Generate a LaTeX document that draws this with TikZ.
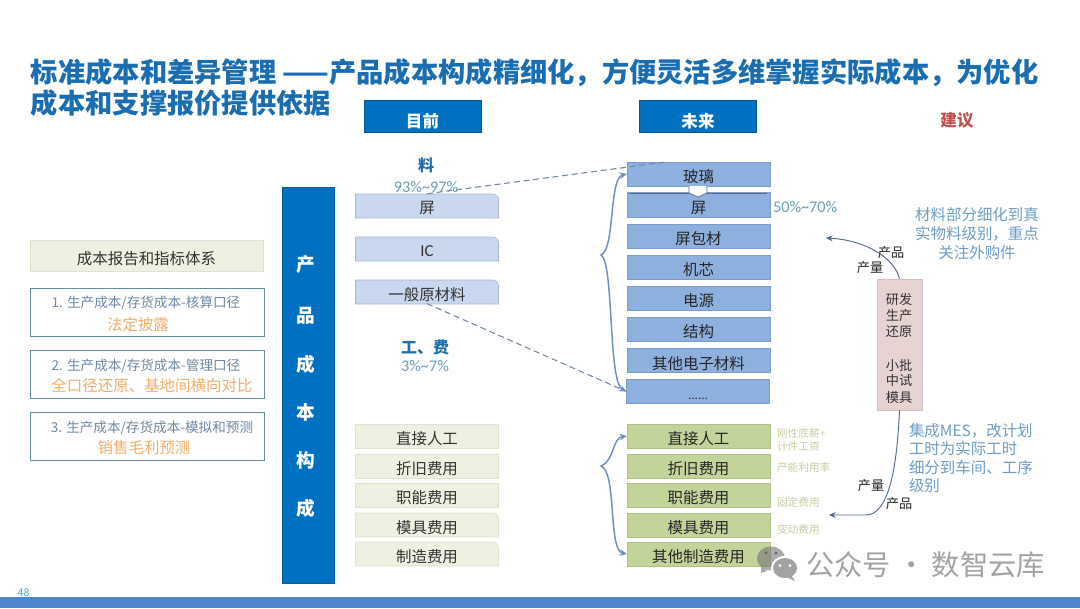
\documentclass[tikz,border=0pt]{standalone}
\usepackage{fontspec}
\setmainfont{Noto Sans CJK SC}
\newfontfamily\latf{Carlito}
\usetikzlibrary{arrows.meta}
\definecolor{titleblue}{HTML}{1A6DB0}
\definecolor{barblue}{HTML}{0070C0}
\definecolor{softblue}{HTML}{C9D8EE}
\definecolor{softblueline}{HTML}{A3B6D3}
\definecolor{softgreen}{HTML}{EEF0E1}
\definecolor{softgreenline}{HTML}{E0E3CE}
\definecolor{midblue}{HTML}{8EB0DF}
\definecolor{midblueline}{HTML}{7C9CCB}
\definecolor{midgreen}{HTML}{C3D49B}
\definecolor{midgreenline}{HTML}{B0C285}
\definecolor{accent}{HTML}{6F8FBF}
\definecolor{notetext}{HTML}{6E9CC6}
\definecolor{pct}{HTML}{6C9DB2}
\definecolor{headtext}{HTML}{1F6FA8}
\definecolor{orangetext}{HTML}{EFAE6C}
\definecolor{greytext}{HTML}{6F88A6}
\definecolor{smallgreen}{HTML}{C6CFA2}
\definecolor{pinkbox}{HTML}{E8D3D3}
\definecolor{redtext}{HTML}{C0504D}
\definecolor{frameteal}{HTML}{5F8D9A}
\definecolor{wm}{HTML}{A3A3A3}
\definecolor{band}{HTML}{4F87CF}
\definecolor{dashgrey}{HTML}{7488A6}
\definecolor{pagenumcol}{HTML}{3FA9D6}
\tikzset{
  x=0.75pt,y=-0.75pt,
  txt/.style={inner sep=0pt,outer sep=0pt,text=#1},
  txt/.default=black,
  px155/.style={font=\fontsize{11.6pt}{14pt}\selectfont},
  px13/.style={font=\fontsize{9.9pt}{12pt}\selectfont},
  px135/.style={font=\fontsize{10.2pt}{12pt}\selectfont},
  px11/.style={font=\fontsize{8pt}{10pt}\selectfont},
  lowtext/.style={text height=14.5pt,text depth=1.5pt},
  pctfont/.style={font=\fontsize{12.2pt}{14pt}\latf},
  header/.style={fill=barblue,draw=barblue!80!black,line width=.4pt,minimum width=88pt,minimum height=24pt,inner sep=0pt,text=white,font=\fontsize{12.4pt}{14pt}\selectfont\bfseries,text height=19pt,text depth=2pt},
  bluerow/.style={fill=midblue,draw=midblueline,line width=.4pt,minimum width=107pt,minimum height=18pt,inner sep=0pt,px155,text=black!85,lowtext},
  greenrow/.style={fill=midgreen,draw=midgreenline,line width=.4pt,minimum width=107pt,minimum height=18pt,inner sep=0pt,px155,text=black!85,lowtext},
  softrow/.style={fill=softgreen,draw=softgreenline,line width=.4pt,minimum width=107pt,minimum height=18pt,inner sep=0pt,px155,text=black!80,lowtext},
  frame/.style={draw=frameteal,line width=.6pt,fill=white,minimum width=175.5pt,minimum height=36.5pt,inner sep=0pt},
  dashline/.style={dash pattern=on 4.5pt off 2.8pt,line width=.8pt,draw=dashgrey},
  brace/.style={draw=accent,line width=1.1pt,{Stealth[length=5.5pt,width=5pt]}-{Stealth[length=5.5pt,width=5pt]}},
  curve/.style={draw=black!25!accent,line width=.7pt,-{Stealth[length=5pt,width=4.5pt]}},
  vchar/.style={txt=white,font=\fontsize{14pt}{16pt}\selectfont\bfseries},
}
\newcommand{\softbox}[7]{% name, cx, cy, fill, line, text, halfheight
  \draw[fill=#4,draw=#5,line width=.5pt] (#2-71.5,#3+#7) -- (#2-71.5,#3-#7) {[rounded corners=4.5pt] -- (#2+71.5,#3-#7) -- (#2+71.5,#3)} -- (#2+71.5,#3+#7) -- cycle;
  \node[txt,px155,text=black!80] (#1) at (#2,#3+2.5) {#6};
}
\begin{document}
\begin{tikzpicture}
\useasboundingbox (0,0) rectangle (1080,608);
\fill[white] (0,0) rectangle (1080,608);

% bottom band
\fill[band] (0,597) rectangle (1080,608);
\node[txt=pagenumcol,font=\fontsize{8pt}{9pt}\selectfont] (pagenum) at (23.5,592.5) {48};

% title
\node[txt=titleblue,anchor=west,font=\fontsize{20.45pt}{24pt}\selectfont\bfseries] (title1) at (31,72.5) {标准成本和差异管理 ——产品成本构成精细化，方便灵活多维掌握实际成本，为优化};
\node[txt=titleblue,anchor=west,font=\fontsize{20.45pt}{24pt}\selectfont\bfseries] (title2) at (31,103) {成本和支撑报价提供依据};

% column headers
\node[header] (now) at (422.5,116) {目前};
\node[header] (future) at (698,116) {未来};
\node[txt=redtext,font=\fontsize{12.4pt}{14pt}\selectfont\bfseries] (advice) at (957,120.5) {建议};

% left panel
\node[fill=softgreen,draw=softgreenline,line width=.4pt,minimum width=175pt,minimum height=23pt,inner sep=0pt,px155,text=black!80,lowtext] (report) at (146.5,255.5) {成本报告和指标体系};
\node[frame] (f1) at (147,312.5) {};
\node[frame] (f2) at (147,374.5) {};
\node[frame] (f3) at (147,436.5) {};
\node[txt=greytext,px135] (f1a) at (146,303) {1. 生产成本/存货成本-核算口径};
\node[txt=orangetext,px155] (f1b) at (138,325) {法定披露};
\node[txt=greytext,px135] (f2a) at (146,366) {2. 生产成本/存货成本-管理口径};
\node[txt=orangetext,px155] (f2b) at (152,386) {全口径还原、基地间横向对比};
\node[txt=greytext,px135] (f3a) at (152,428) {3. 生产成本/存货成本-模拟和预测};
\node[txt=orangetext,px155] (f3b) at (144,448) {销售毛利预测};

% vertical bar
\node[fill=barblue,draw=barblue!85!black,line width=.4pt,minimum width=39pt,minimum height=297pt,inner sep=0pt] (bar) at (308,385) {};
\node[vchar] (v1) at (306,264) {产};
\node[vchar] (v2) at (306,316) {品};
\node[vchar] (v3) at (306,364) {成};
\node[vchar] (v4) at (306,412) {本};
\node[vchar] (v5) at (306,460) {构};
\node[vchar] (v6) at (306,508) {成};

% current column
\node[txt=headtext,font=\fontsize{12pt}{14pt}\selectfont\bfseries] (liao) at (426,165.5) {料};
\node[txt=pct,pctfont] (liaopct) at (426,187) {93\%\char`\~97\%};
\softbox{ping}{427}{206}{softblue}{softblueline}{屏}{12}
\softbox{ic}{427}{249}{softblue}{softblueline}{{\fontsize{12.6pt}{14pt}\latf IC}}{12}
\softbox{yuan}{427}{292}{softblue}{softblueline}{一般原材料}{12}
\node[txt=headtext,font=\fontsize{12pt}{14pt}\selectfont\bfseries] (gongfei) at (425,347.5) {工、费};
\node[txt=pct,pctfont] (gfpct) at (425,366.5) {3\%\char`\~7\%};
\node[softrow] (l1) at (427,436) {直接人工};
\node[softrow] (l2) at (427,466) {折旧费用};
\node[softrow] (l3) at (427,495) {职能费用};
\softbox{l4}{427}{525}{softgreen}{softgreenline}{模具费用}{12}
\softbox{l5}{427}{554}{softgreen}{softgreenline}{制造费用}{12}

% future column, materials
\node[bluerow] (glass) at (698.5,174) {玻璃};
\node[bluerow,minimum height=18.5pt] (rping) at (698.5,204.5) {屏};
\draw[draw=midblueline!70!black,line width=.6pt] (629,193.5) -- (767,193.5);
\fill[white] (627.5,186.5) rectangle (769.5,191.5);
\draw[draw=midblueline!70!black,fill=white,line width=.5pt] (689,186) -- (689,193) -- (698,197) -- (707,193) -- (707,186);
\fill[white] (690,186) rectangle (706,192);
\node[bluerow] (pack) at (698.5,236) {屏包材};
\node[bluerow] (core) at (698.5,267) {机芯};
\node[bluerow] (power) at (698.5,298) {电源};
\node[bluerow] (struct) at (698.5,329) {结构};
\node[bluerow] (elec) at (698.5,360.5) {其他电子材料};
\node[bluerow] (dots) at (698,391.5) {};
\node[txt=black!80,font=\fontsize{9pt}{11pt}\selectfont] (dotstext) at (698,399) {......};
\node[txt=pct,anchor=west,pctfont] (pct5070) at (773,207) {50\%\char`\~70\%};

% future column, costs
\node[greenrow] (g1) at (698.5,436) {直接人工};
\node[greenrow] (g2) at (698.5,466) {折旧费用};
\node[greenrow] (g3) at (698.5,495) {职能费用};
\node[greenrow] (g4) at (698.5,525) {模具费用};
\node[greenrow] (g5) at (698.5,554) {其他制造费用};
\node[txt=smallgreen,px11,anchor=west] (s1) at (777,433) {刚性底薪+};
\node[txt=smallgreen,px11,anchor=west] (s2) at (777,446) {计件工资};
\node[txt=smallgreen,px11,anchor=west] (s3) at (777,467) {产能利用率};
\node[txt=smallgreen,px11,anchor=west] (s4) at (777,502) {固定费用};
\node[txt=smallgreen,px11,anchor=west] (s5) at (777,529) {变动费用};

% dashed links
\draw[dashline] (ping.north) ++(0,-8) -- ([xshift=-23pt]glass.north);
\draw[dashline] (yuan.south) ++(0,2) -- (dots.west);

% braces
\coordinate (tipa) at (601,255);
\coordinate (tipb) at (601,466);
\draw[brace] (glass.west) .. controls (609,178) and (615,250) .. (tipa) .. controls (614,262) and (608,382) .. (dots.west);
\draw[brace] (g1.west) .. controls (612,438) and (615,460) .. (tipb) .. controls (617,472) and (608,550) .. (g5.west);

% advice box and curves
\node[fill=pinkbox,draw=pinkbox!90!black,line width=.4pt,minimum width=34pt,minimum height=98pt,inner sep=0pt] (rd) at (899.5,344.5) {};
\node[txt=black!80,px13] (r1) at (899,299.5) {研发};
\node[txt=black!80,px13] (r2) at (899,316) {生产};
\node[txt=black!80,px13] (r3) at (899,332) {还原};
\node[txt=black!80,px13] (r4) at (899,365) {小批};
\node[txt=black!80,px13] (r5) at (899,380.5) {中试};
\node[txt=black!80,px13] (r6) at (899,397) {模具};
\coordinate (ta) at (826,238);
\coordinate (tb) at (829,515);
\draw[curve] (rd.north) .. controls (895,258) and (865,240) .. (ta);
\draw[curve] (rd.south) .. controls (897,470) and (888,515) .. (866,515) -- (tb);
\node[txt=black!85,px13] (c1) at (891,252.5) {产品};
\node[txt=black!85,px13] (c2) at (870,268) {产量};
\node[txt=black!85,px13] (c3) at (871,485.5) {产量};
\node[txt=black!85,px13] (c4) at (899,503.5) {产品};

% notes
\node[txt=notetext,px155] (n1) at (977,214.5) {材料部分细化到真};
\node[txt=notetext,px155] (n2) at (977,233.5) {实物料级别，重点};
\node[txt=notetext,px155] (n3) at (977,252.5) {关注外购件};
\node[txt=notetext,px155,anchor=west] (m1) at (909,430.5) {集成MES，改计划};
\node[txt=notetext,px155,anchor=west] (m2) at (909,449) {工时为实际工时};
\node[txt=notetext,px155,anchor=west] (m3) at (909,467.5) {细分到车间、工序};
\node[txt=notetext,px155,anchor=west] (m4) at (909,486) {级别};

% watermark
\fill[black!55,opacity=.6] (771,558.5) ellipse [x radius=14,y radius=12] (761,567) -- (767,571) -- (761,573) -- cycle;
\fill[white] (785,568) ellipse [x radius=14,y radius=12];
\fill[wm] (785,568) ellipse [x radius=12,y radius=10] (791,575) -- (795,581) -- (786,577) -- cycle;
\fill[white] (780,565.5) circle [radius=1.5] (790,565.5) circle [radius=1.5];
\fill[black!60] (766,553) circle [radius=1.6] (776,553) circle [radius=1.6];
\node[txt=wm,anchor=west,font=\fontsize{21.2pt}{24pt}\selectfont] (wmtext) at (806,565) {公众号 · 数智云库};
\end{tikzpicture}
\end{document}
